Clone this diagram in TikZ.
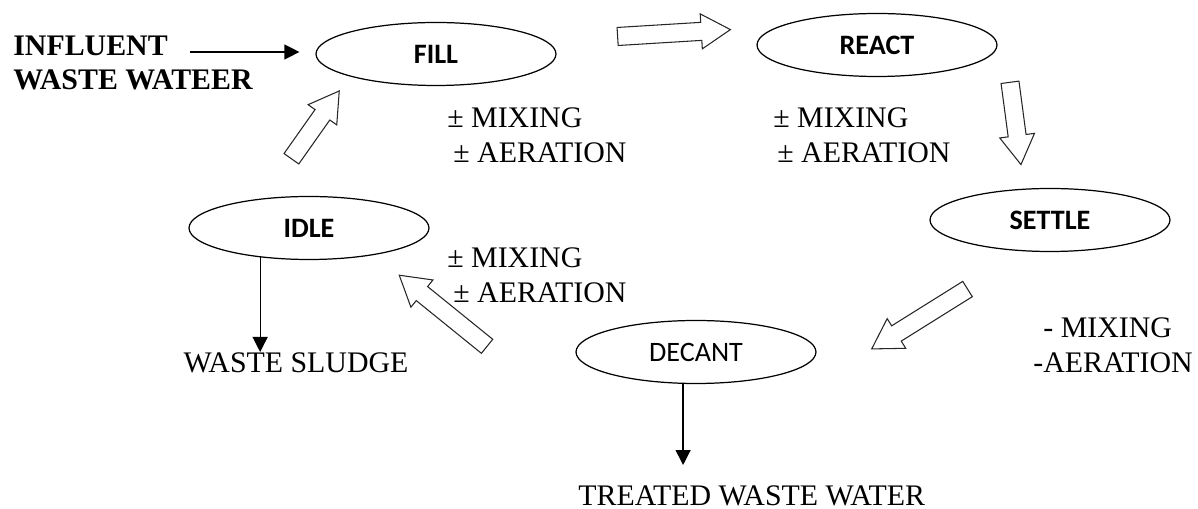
\documentclass[tikz,border=0pt]{standalone}
\usepackage{fontspec}
\setmainfont{Liberation Serif}
\newfontfamily\phasefont{Carlito}
\usetikzlibrary{shapes.geometric,shapes.arrows,arrows.meta}
\tikzstyle{phase}=[ellipse, draw=black, line width=0.7pt, minimum width=4.8cm, minimum height=1.26cm, inner sep=0pt, font=\phasefont\fontsize{16}{18}\selectfont\bfseries]
\tikzstyle{annot}=[align=left, inner sep=0pt, font=\fontsize{17}{20}\selectfont]
\tikzstyle{hollow}=[single arrow, draw=black!85, line width=0.6pt, inner sep=0.17cm, single arrow head extend=0.17cm, single arrow tip angle=62]
\tikzstyle{flow}=[line width=0.7pt, -{Triangle[length=0.3cm,width=0.3cm]}]

\begin{document}
\begin{tikzpicture}[x=0.02cm, y=-0.02cm]
	\useasboundingbox (0,0) rectangle (1198,509);

	% the five phases
	\node[phase] (fill) at (436,54) {FILL};
	\node[phase] (react) at (877,45) {REACT};
	\node[phase] (settle) at (1050,220) {SETTLE};
	\node[phase, font=\phasefont\fontsize{16}{18}\selectfont] (decant) at (696,352) {DECANT};
	\node[phase] (idle) at (309,228) {IDLE};

	% hollow arrows of the cycle
	\node[hollow, minimum height=2.26cm, rotate=3.5] (fill2react) at (666.5,33.5) {};
	\node[hollow, minimum height=1.66cm, rotate=-82.4] (react2settle) at (1014.5,116) {};
	\node[hollow, minimum height=2.26cm, rotate=212] (settle2decant) at (926,315) {};
	\node[hollow, minimum height=2.26cm, rotate=141] (decant2idle) at (449,315.5) {};
	\node[hollow, minimum height=1.66cm, rotate=54.8] (idle2fill) at (311,131) {};

	\node[annot, anchor=north west, font=\bfseries\fontsize{17}{19.3}\selectfont] (influent) at (13,36) {INFLUENT\\WASTE WATEER};
	\coordinate (inflow) at (190,52);
	\draw[flow, shorten >=0.32cm] (inflow) -- (inflow -| fill.west);

	\node[annot, anchor=north west] (fillmix) at (447,107) {± MIXING\\\hspace*{0.12cm}± AERATION};
	\node[annot, anchor=north west] (reactmix) at (773,107) {± MIXING\\\hspace*{0.08cm}± AERATION};
	\node[annot, anchor=north west] (idlemix) at (447,247) {± MIXING\\\hspace*{0.12cm}± AERATION};
	\node[annot, anchor=north west] (settlemix) at (1033,317) {\hspace*{0.2cm}- MIXING\\-AERATION};

	\node[annot, anchor=north] (sludge) at (296,352) {WASTE SLUDGE};
	\draw[flow] (idle.211) -- (idle.211 |- sludge.north);

	\node[annot, anchor=north west] (treated) at (578,485) {TREATED WASTE WATER};
	\draw[flow, shorten >=0.4cm] (decant.248) -- (decant.248 |- treated.north);
\end{tikzpicture}
\end{document}
